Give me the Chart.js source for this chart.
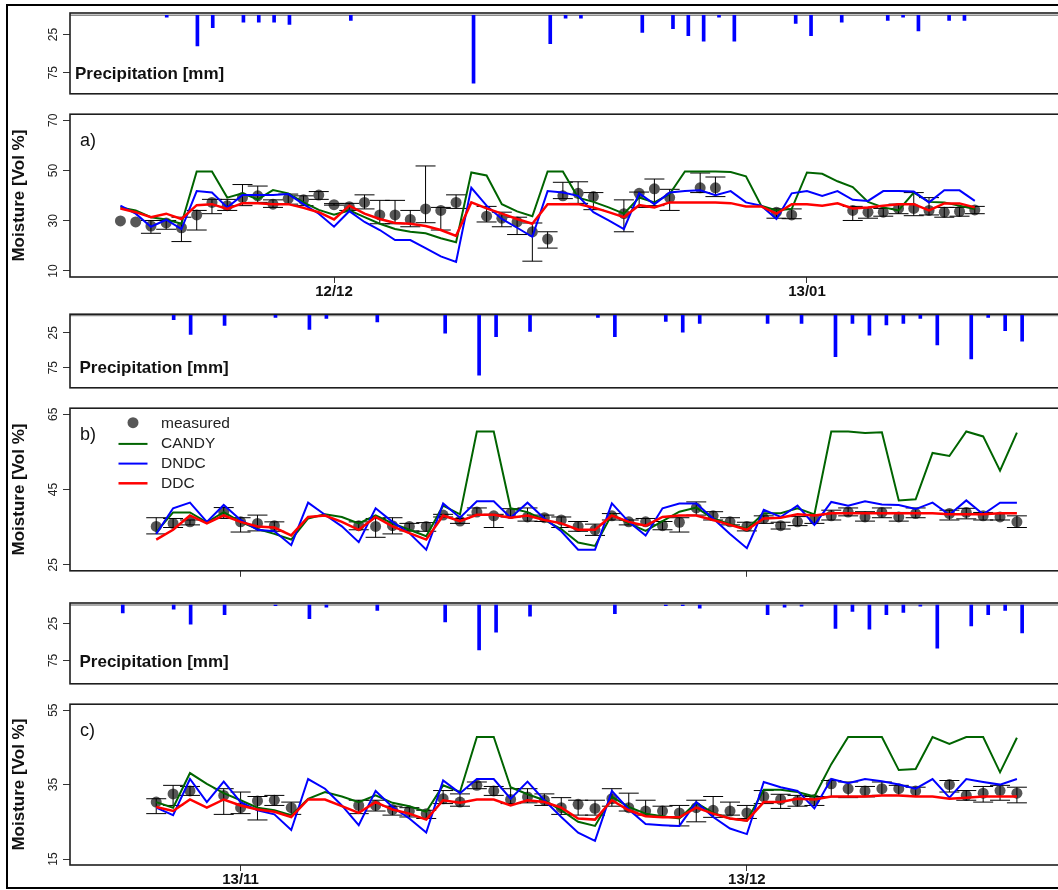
<!DOCTYPE html>
<html>
<head>
<meta charset="utf-8">
<script src="https://cdn.jsdelivr.net/npm/chart.js@4.4.0/dist/chart.umd.min.js"></script>
<style>
  html, body { margin: 0; padding: 0; background: #fff; overflow: hidden; }
  #page { position: relative; width: 1058px; height: 890px; overflow: hidden; background: #fff; }
  #page canvas { position: absolute; left: 0; }
  #frame { position: absolute; left: 6px; top: 4px; width: 1090px; height: 885px; border: 2px solid #000;
           box-sizing: border-box; pointer-events: none; }
</style>
</head>
<body>
<div id="page">
  <canvas id="pa" width="1070" height="104" style="top:0px"></canvas>
  <canvas id="ma" width="1070" height="200" style="top:104px"></canvas>
  <canvas id="pb" width="1070" height="94" style="top:304px"></canvas>
  <canvas id="mb" width="1070" height="183" style="top:398px"></canvas>
  <canvas id="pc" width="1070" height="113" style="top:581px"></canvas>
  <canvas id="mc" width="1070" height="196" style="top:694px"></canvas>
  <div id="frame"></div>
</div>
<script>
var FONT = '"Liberation Sans", Arial, Helvetica, sans-serif';

// ---- panel a: 2012/13, one value per day, day 0 = first measurement
var daysA = Array.from({ length: 57 }, function (_, i) { return i; });
var tickDaysA = [14, 45];
var tickLabelsA = ['12/12', '13/01'];

var measA = [29.9,29.5,27.9,29.1,27.2,32.3,37.3,36.0,39.2,39.9, 36.6,38.8,38.3,40.2,36.4,35.6,37.3,32.3,32.3,30.5,
             34.7,34.1,37.3,null,31.8,31.0,29.5,25.6,22.7,39.9, 40.9,39.6,null,32.8,40.9,42.7,39.2,null,43.1,43.1,
             null,null,null,33.4,32.3,null,null,null,34.1,33.4, 33.4,34.9,34.9,34.1,33.4,33.7,34.3];
var measLoA = [null,null,25.0,26.6,21.7,26.3,32.8,34.1,36.0,37.3, 35.3,36.6,36.0,38.5,36.2,34.1,34.7,28.8,28.8,27.6,
               29.2,26.3,34.9,null,29.5,27.6,24.5,13.9,19.1,38.8, 36.9,34.4,null,25.6,35.3,36.0,34.1,null,41.2,39.6,
               null,null,null,31.0,30.8,null,null,null,30.1,31.0, 31.8,32.8,32.0,32.3,31.4,31.8,32.8];
var measHiA = [null,null,30.1,30.1,31.4,34.1,38.5,38.5,44.4,43.8, 38.3,40.6,39.9,41.6,36.8,36.9,40.3,38.1,38.1,34.1,
               51.8,35.3,40.3,null,35.7,33.4,31.4,29.1,25.6,45.3, 45.5,41.2,null,38.3,41.4,46.6,42.5,null,49.0,47.4,
               null,null,null,34.7,34.7,null,null,null,35.7,35.3, 34.9,36.6,41.2,39.2,35.3,35.3,35.7];
var candyA = [35.3,34.1,31.4,30.5,28.8,49.6,49.6,39.2,40.9,38.5, 42.2,40.9,37.3,34.3,32.4,34.1,31.4,28.8,26.7,25.6,
              25.0,23.0,21.4,49.2,48.0,36.6,33.7,31.8,49.6,49.6, 39.2,37.5,35.3,32.8,39.2,37.3,40.6,49.6,49.6,49.6,
              49.4,47.7,36.0,34.1,34.7,49.2,48.7,45.7,43.4,37.5, 35.3,34.1,41.2,37.5,37.3,36.0,34.7];
var dndcA = [36.0,32.8,27.6,30.4,26.7,41.8,41.2,35.3,40.2,40.2, 40.2,40.6,36.6,32.8,27.6,33.8,29.5,26.3,22.3,22.3,
             19.1,15.8,13.6,43.1,36.0,30.7,27.2,23.6,41.8,41.2, 39.9,33.4,30.1,26.7,40.9,36.6,41.2,41.8,42.1,40.2,
             41.8,37.3,36.0,30.7,40.9,41.8,39.9,41.8,38.3,37.9, 41.8,41.8,41.6,37.3,42.1,42.1,37.9];
var ddcA = [34.9,33.4,31.4,32.8,30.7,36.2,36.6,34.7,37.0,37.0, 36.6,36.6,35.1,33.4,30.5,36.0,32.8,30.7,29.1,28.8,
            27.9,26.3,24.0,37.3,34.9,32.8,30.7,28.8,36.6,36.6, 36.6,35.3,33.4,31.4,36.2,35.3,37.3,37.3,37.3,37.3,
            37.0,35.7,35.7,32.8,36.6,36.6,36.0,36.9,34.9,35.3, 36.0,36.6,36.6,34.1,36.9,36.9,35.3];
var rainDaysA = [3,5,6,8,9,10,11,15,23,28,29,30,34,36,37,38,39,40,44,45,47,50,51,52,54,55];
var rainA = [2.3,40,16.1,9,9,9,12,6.5,88.8,37.2,3.6,3.6,22.4,17.4,26.7,33.8,2.3,33.8,10.7,26.7,9,6.5,2.3,20.4,6.5,6.5];

// ---- panels b and c: 2013, day 0 = first measurement
var daysBC = Array.from({ length: 52 }, function (_, i) { return i; });
var tickDaysBC = [5, 35];
var tickLabelsBC = ['13/11', '13/12'];

var measB = [35.2,36.0,36.4,null,39.0,36.4,36.0,35.4,null,null, null,null,35.4,35.2,35.4,35.2,35.2,38.2,36.6,39.0,
             38.0,38.6,37.7,37.5,36.9,35.2,34.3,38.0,36.4,36.4, 35.4,36.3,40.1,38.0,36.4,35.2,37.3,35.4,36.4,37.1,
             38.0,39.0,37.7,38.9,37.7,38.6,null,38.6,38.9,38.0, 37.7,36.4];
var measLoB = [33.2,34.9,35.6,null,37.3,33.7,34.0,33.9,null,null, null,null,34.3,32.3,33.2,34.0,33.9,37.7,36.0,38.2,
               34.9,37.7,36.6,36.5,34.9,33.9,32.8,36.9,35.6,35.6, 34.3,33.7,38.2,36.9,35.6,34.0,36.0,34.5,35.4,36.0,
               36.9,38.0,36.6,37.5,36.6,37.5,null,36.9,37.2,36.9, 36.9,34.9];
var measHiB = [37.5,37.3,36.9,null,40.2,37.5,38.2,36.4,null,null, null,null,36.4,37.3,37.5,36.0,36.2,38.4,37.3,40.1,
               38.4,39.9,40.1,38.2,37.7,36.5,35.8,38.6,36.9,37.3, 36.5,37.5,41.7,39.1,37.5,36.3,38.0,36.3,37.8,38.2,
               39.5,40.1,39.1,40.1,38.9,40.1,null,39.5,40.0,38.9, 38.6,38.0];
var candyB = [33.7,38.9,38.9,36.3,39.0,36.4,34.5,33.2,31.7,37.3, 38.4,37.7,36.0,38.1,36.0,34.3,32.6,40.7,38.4,60.4,
              60.4,40.0,39.0,36.9,34.5,30.9,30.0,38.4,36.0,34.0, 36.6,39.1,40.2,37.3,35.8,34.5,38.7,38.7,40.0,38.4,
              60.4,60.4,60.0,60.2,42.1,42.4,54.7,53.9,60.4,59.1, 50.0,60.1];
var dndcB = [33.2,40.0,41.5,36.4,40.9,36.9,34.3,33.9,30.2,41.5, 38.3,35.2,31.0,40.0,36.4,33.4,29.0,41.3,37.5,41.9,
             41.9,37.5,41.5,37.3,33.9,29.0,29.0,41.3,36.4,32.8, 40.0,41.3,41.3,37.3,33.2,29.4,39.6,37.7,40.7,35.6,
             41.7,40.7,41.9,41.0,40.9,39.8,41.5,38.3,42.1,38.4, 41.5,41.5];
var ddcB = [31.7,34.3,38.1,36.0,38.1,36.4,35.2,34.9,32.8,37.7, 38.1,36.4,34.3,37.7,35.2,33.4,31.7,38.1,36.6,38.3,
            38.3,37.5,38.1,36.9,36.0,34.3,34.3,38.1,36.4,35.4, 37.7,38.1,38.1,36.9,35.6,34.3,37.3,37.5,38.4,38.1,
            38.7,38.7,38.7,38.7,38.7,38.7,38.7,38.4,38.4,38.4, 38.7,38.7];
var rainDaysB = [1,2,4,7,9,10,13,17,19,20,22,26,27,30,31,32,36,38,40,41,42,43,44,45,46,48,49,50,51];
var rainB = [6,27.2,14.5,3,20,4.3,9.4,25.4,85.7,30.5,22.9,3,30.5,8.5,24.2,11.5,11.5,11.5,59.4,11.5,28.5,13.6,11.5,4.3,42.5,62.4,3,22.1,36.9];

var measC = [30.3,32.5,33.3,null,32.1,28.8,30.6,30.8,28.8,null, null,null,29.4,29.4,28.3,27.9,27.2,31.2,30.3,34.8,
             33.3,31.0,31.7,30.8,28.8,29.7,28.6,31.2,28.8,27.9, 27.9,27.4,28.8,28.1,27.9,27.4,31.8,31.0,30.6,31.0,
             35.2,33.9,33.3,33.9,33.9,33.3,null,35.0,32.1,32.7, 33.4,32.7];
var measLoC = [27.2,29.4,32.1,null,27.0,27.2,25.5,29.4,27.0,null, null,null,27.2,27.9,26.8,26.3,25.9,29.9,29.2,33.9,
               32.1,29.9,30.1,29.4,27.0,26.8,26.8,29.2,27.9,26.8, 26.3,23.9,25.0,26.2,26.8,25.9,29.9,28.6,29.2,29.4,
               31.7,31.5,31.7,32.1,32.1,31.8,null,33.0,30.8,30.3, 30.8,30.1];
var measHiC = [31.2,34.8,34.5,null,33.9,33.0,31.8,32.1,30.3,null, null,null,30.8,30.8,29.2,28.8,28.1,33.4,32.5,35.7,
               34.5,33.9,33.9,32.5,31.5,30.8,30.8,33.9,32.7,30.8, 29.2,29.4,30.8,31.8,30.3,29.4,33.4,32.4,32.1,31.8,
               36.1,35.7,34.5,35.7,34.8,34.3,null,36.1,33.4,34.5, 34.8,34.3];
var candyC = [30.3,28.8,38.1,35.2,32.7,30.8,28.8,28.1,26.8,31.2, 33.0,31.8,30.3,32.1,30.1,29.2,27.7,34.8,33.0,47.8,
              47.8,34.3,32.4,30.8,28.1,25.0,23.9,31.7,29.0,27.2, 26.5,25.9,30.1,27.4,25.9,25.3,33.6,33.6,33.0,31.8,
              40.5,47.8,47.8,47.8,38.9,39.2,47.8,45.9,47.8,47.8, 38.3,47.6];
var dndcC = [28.8,26.8,36.5,30.3,35.8,30.3,28.1,27.0,22.8,36.5, 33.9,29.4,24.1,33.3,29.0,25.9,22.1,36.1,32.7,36.5,
             36.5,31.2,35.8,30.8,26.3,22.1,19.9,33.3,28.3,24.4, 24.1,23.9,30.3,26.3,23.2,21.7,35.7,34.3,33.3,28.6,
             36.5,35.4,36.5,35.9,35.0,33.9,36.5,31.5,36.5,35.7, 35.0,36.5];
var ddcC = [29.0,27.9,31.0,28.8,31.0,29.4,28.3,27.7,26.3,31.0, 31.0,29.2,27.4,30.3,28.3,27.2,25.6,30.8,30.1,31.0,
            31.0,29.4,30.8,30.3,28.8,25.9,25.6,30.8,28.1,26.5, 26.2,26.2,28.8,27.2,25.9,25.3,30.3,30.3,31.2,31.0,
            31.8,31.8,31.8,32.1,32.1,31.8,31.8,31.2,31.5,31.8, 31.8,31.8];
var rainDaysC = [-2,1,2,4,7,9,10,13,17,19,20,22,27,30,31,32,36,37,38,40,41,42,43,44,45,46,48,49,50,51];
var rainC = [10.8,5.6,26,13,1,18.6,3,7.4,23,60.8,36.9,15.2,11.7,1,1,4.3,13,3,1.7,31.7,8.7,32.6,13,10,1.7,58.6,28.2,13,7.4,37.8];

var rainTicks = [25, 75];

// box round the plot area, zero line, panel captions
var panelDecor = {
  id: 'panelDecor',
  beforeDatasetsDraw: function (chart, args, o) {
    if (!o.zeroLine) return;
    var a = chart.chartArea, ctx = chart.ctx;
    var y0 = chart.scales.y.getPixelForValue(0);
    ctx.save();
    ctx.strokeStyle = '#8c8c8c';
    ctx.lineWidth = 1.5;
    ctx.beginPath(); ctx.moveTo(a.left, y0); ctx.lineTo(a.right, y0); ctx.stroke();
    ctx.restore();
  },
  afterDraw: function (chart, args, o) {
    var a = chart.chartArea, ctx = chart.ctx;
    ctx.save();
    ctx.strokeStyle = '#1e1e1e';
    ctx.lineWidth = 1.6;
    ctx.strokeRect(a.left, a.top, a.right - a.left, a.bottom - a.top);
    if (o.text) {
      ctx.fillStyle = '#111';
      ctx.font = o.font;
      ctx.textAlign = 'left';
      ctx.textBaseline = 'middle';
      var y = o.fromBottom ? a.bottom - o.dy : a.top + o.dy;
      ctx.fillText(o.text, o.x, y);
    }
    ctx.restore();
  }
};

// error bars of the measured series, drawn right after its points
var errorBars = {
  id: 'errorBars',
  afterDatasetDraw: function (chart, args) {
    var ds = chart.data.datasets[args.index];
    if (!ds.lo) return;
    var xs = chart.scales.x, ys = chart.scales.y, ctx = chart.ctx;
    ctx.save();
    ctx.strokeStyle = '#000';
    ctx.lineWidth = 1;
    ds.data.forEach(function (p, i) {
      if (p.y == null || ds.lo[i] == null) return;
      var px = xs.getPixelForValue(p.x);
      var y1 = ys.getPixelForValue(ds.lo[i]);
      var y2 = ys.getPixelForValue(ds.hi[i]);
      ctx.beginPath();
      ctx.moveTo(px, y1); ctx.lineTo(px, y2);
      ctx.moveTo(px - 10, y1); ctx.lineTo(px + 10, y1);
      ctx.moveTo(px - 10, y2); ctx.lineTo(px + 10, y2);
      ctx.stroke();
    });
    ctx.restore();
  }
};

// legend inside the plot of panel b
var insideLegend = {
  id: 'insideLegend',
  afterDraw: function (chart, args, o) {
    if (!o.show) return;
    var a = chart.chartArea, ctx = chart.ctx;
    ctx.save();
    ctx.font = '15.5px ' + FONT;
    ctx.textAlign = 'left';
    ctx.textBaseline = 'middle';
    chart.data.datasets.forEach(function (ds, i) {
      var y = a.top + o.top + i * o.step;
      if (ds.showLine === false) {
        ctx.fillStyle = ds.pointBackgroundColor;
        ctx.beginPath(); ctx.arc(o.symX, y - 1.5, 5.5, 0, Math.PI * 2); ctx.fill();
      } else {
        ctx.strokeStyle = ds.borderColor;
        ctx.lineWidth = ds.borderWidth;
        ctx.beginPath(); ctx.moveTo(o.symX - 14.5, y); ctx.lineTo(o.symX + 14.5, y); ctx.stroke();
      }
      ctx.fillStyle = '#222';
      ctx.fillText(ds.label, o.textX, y);
    });
    ctx.restore();
  }
};

function xAxis(min, max, ticksAt, labels, height, showLabels) {
  return {
    type: 'linear', min: min, max: max, bounds: 'data', offset: false,
    afterBuildTicks: function (s) { s.ticks = ticksAt.map(function (v) { return { value: v }; }); },
    afterFit: function (s) { s.height = height; },
    grid: { drawOnChartArea: false, drawTicks: true, tickLength: 6, color: '#333', lineWidth: 1, offset: false },
    border: { display: false },
    ticks: {
      display: showLabels, autoSkip: false, maxRotation: 0, minRotation: 0, padding: 0, color: '#111',
      font: { family: FONT, size: 15, weight: 'bold' },
      callback: function (v, i) { return labels[i]; }
    }
  };
}

function yAxis(min, max, ticksAt, reverse, title) {
  return {
    type: 'linear', min: min, max: max, reverse: reverse, bounds: 'data',
    afterBuildTicks: function (s) { s.ticks = ticksAt.map(function (v) { return { value: v }; }); },
    afterFit: function (s) { s.width = 70; },
    grid: { drawOnChartArea: false, drawTicks: true, tickLength: 7, color: '#333', lineWidth: 1 },
    border: { display: false },
    ticks: {
      minRotation: 90, maxRotation: 90, crossAlign: 'center', padding: 3, color: '#222',
      font: { family: FONT, size: 12 }
    },
    title: {
      display: !!title, text: title || '', color: '#111',
      font: { family: FONT, size: 17, weight: 'bold' }, padding: { top: 9, bottom: 0 }
    }
  };
}

function points(days, vals) {
  return days.map(function (d, i) { return { x: d, y: vals[i] }; });
}

function rainChart(id, days, mm, xMin, xMax, ticksAt, padTop, yMin, yMax, textX, textDy) {
  return new Chart(document.getElementById(id), {
    type: 'bar',
    data: {
      datasets: [{
        label: 'Precipitation [mm]',
        data: points(days, mm),
        backgroundColor: '#0000ff',
        borderWidth: 0,
        barThickness: 3
      }]
    },
    options: {
      responsive: false, animation: false, events: [], devicePixelRatio: 1,
      layout: { padding: { top: padTop, left: 0, right: 0, bottom: 0 } },
      scales: {
        x: xAxis(xMin, xMax, ticksAt, [], 7, false),
        y: yAxis(yMin, yMax, rainTicks, true, null)
      },
      plugins: {
        legend: { display: false }, tooltip: { enabled: false },
        panelDecor: { zeroLine: true, text: 'Precipitation [mm]', font: 'bold 17px ' + FONT,
                      x: textX, dy: textDy, fromBottom: true },
        insideLegend: { show: false }
      }
    },
    plugins: [panelDecor]
  });
}

function moistChart(id, days, meas, lo, hi, candy, dndc, ddc, xMin, xMax, ticksAt, labels, showLabels,
                    padTop, xh, yMin, yMax, yTicks, tag, withLegend) {
  return new Chart(document.getElementById(id), {
    type: 'line',
    data: {
      datasets: [
        { label: 'measured', data: points(days, meas), lo: lo, hi: hi, showLine: false,
          pointRadius: 5.5, pointBackgroundColor: '#575757', pointBorderWidth: 0, order: 4 },
        { label: 'CANDY', data: points(days, candy), borderColor: '#006400', borderWidth: 2,
          pointRadius: 0, tension: 0, order: 3 },
        { label: 'DNDC', data: points(days, dndc), borderColor: '#0000ff', borderWidth: 2,
          pointRadius: 0, tension: 0, order: 2 },
        { label: 'DDC', data: points(days, ddc), borderColor: '#ff0000', borderWidth: 2.5,
          pointRadius: 0, tension: 0, order: 1 }
      ]
    },
    options: {
      responsive: false, animation: false, events: [], devicePixelRatio: 1,
      layout: { padding: { top: padTop, left: 0, right: 0, bottom: 0 } },
      scales: {
        x: xAxis(xMin, xMax, ticksAt, labels, xh, showLabels),
        y: yAxis(yMin, yMax, yTicks, false, 'Moisture [Vol %]')
      },
      plugins: {
        legend: { display: false }, tooltip: { enabled: false },
        panelDecor: { zeroLine: false, text: tag, font: '18px ' + FONT, x: 80, dy: 26.5, fromBottom: false },
        insideLegend: { show: withLegend, top: 16, step: 19.7, symX: 133, textX: 161 }
      }
    },
    plugins: [panelDecor, errorBars, insideLegend]
  });
}

// x ranges: plot area runs from 70 px to 1070 px
var xMinA = -3.305, xMaxA = 61.88;
var xMinBC = -5.109, xMaxBC = 53.82;

rainChart('pa', rainDaysA, rainA, xMinA, xMaxA, tickDaysA, 13, -3.1, 102.7, 75, 19.5);
moistChart('ma', daysA, measA, measLoA, measHiA, candyA, dndcA, ddcA, xMinA, xMaxA, tickDaysA, tickLabelsA, true,
           7, 27, 7.6, 72.4, [10, 30, 50, 70], 'a)', false);
rainChart('pb', rainDaysB, rainB, xMinBC, xMaxBC, tickDaysBC, 4, -1.7, 103.9, 79.5, 19.5);
moistChart('mb', daysBC, measB, measLoB, measHiB, candyB, dndcB, ddcB, xMinBC, xMaxBC, tickDaysBC, tickLabelsBC, false,
           10, 7, 23.4, 66.6, [25, 45, 65], 'b)', true);
rainChart('pc', rainDaysC, rainC, xMinBC, xMaxBC, tickDaysBC, 22, -2.7, 106.7, 79.5, 21.5);
moistChart('mc', daysBC, measC, measLoC, measHiC, candyC, dndcC, ddcC, xMinBC, xMaxBC, tickDaysBC, tickLabelsBC, true,
           9, 25, 13.4, 56.6, [15, 35, 55], 'c)', false);
</script>
</body>
</html>
